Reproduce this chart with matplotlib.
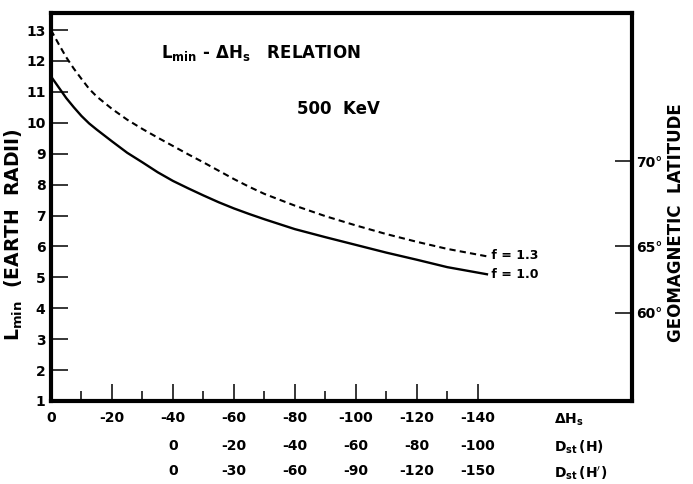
import numpy as np
import matplotlib
matplotlib.use('Agg')
import matplotlib.pyplot as plt
from matplotlib.transforms import blended_transform_factory

# values
dH = [0, -2.5, -5, -7.5, -10, -12.5, -15, -20, -25, -30, -35, -40, -45, -50, -55,
      -60, -65, -70, -80, -90, -100, -110, -120, -130, -143]
L_f10 = [11.5, 11.15, 10.8, 10.5, 10.22, 9.98, 9.78, 9.4, 9.03, 8.72, 8.4, 8.12, 7.88, 7.65, 7.43,
         7.23, 7.05, 6.88, 6.56, 6.3, 6.05, 5.8, 5.57, 5.33, 5.1]
L_f13 = [13.0, 12.55, 12.12, 11.75, 11.42, 11.1, 10.85, 10.45, 10.1, 9.8, 9.52, 9.25, 8.98, 8.72, 8.45,
         8.18, 7.93, 7.7, 7.32, 6.98, 6.68, 6.4, 6.15, 5.92, 5.68]

dh_ticks = [0, -20, -40, -60, -80, -100, -120, -140]
dst_h = [0, -20, -40, -60, -80, -100]
dst_h2 = [0, -30, -60, -90, -120, -150]
L_ticks = list(range(1, 14))
lat_labels = ['70°', '65°', '60°']
lat_L = [8.75, 6.0, 3.85]

plt.rcParams['font.family'] = ['DejaVu Sans']
plt.rcParams['font.weight'] = 'bold'

fig = plt.figure(figsize=(6.93, 4.84), dpi=100)
ax = fig.add_axes([0.0736, 0.1715, 0.838, 0.8015])

ax.plot(dH, L_f10, color='black', lw=1.7)
ax.plot(dH, L_f13, color='black', lw=1.5, dashes=(3, 2))

ax.set_xlim(0, -190.5)
ax.set_ylim(1, 13.55)

for s in ax.spines.values():
    s.set_linewidth(3)

ax.set_xticks(dh_ticks)
ax.set_xticks(np.arange(-10, -140, -20), minor=True)
ax.set_xticklabels([str(v) for v in dh_ticks], fontsize=10, fontweight='bold')
ax.tick_params(axis='x', which='major', direction='in', length=12, width=1.1, pad=7)
ax.tick_params(axis='x', which='minor', direction='in', length=7, width=1.1)
ax.set_yticks(L_ticks)
ax.set_yticklabels([str(v) for v in L_ticks], fontsize=10, fontweight='bold')
ax.tick_params(axis='y', direction='in', length=12, width=1.1, pad=4)

ax2 = ax.twinx()
ax2.set_ylim(ax.get_ylim())
ax2.set_yticks(lat_L)
ax2.set_yticklabels(lat_labels, fontsize=10, fontweight='bold')
ax2.tick_params(axis='y', direction='in', length=12, width=1.1, pad=3)
for s in ax2.spines.values():
    s.set_visible(False)

# extra scales under the axis
tr = blended_transform_factory(ax.transData, ax.transAxes)
for v, lab in zip(dh_ticks[2:], dst_h):
    ax.text(v, -0.115, str(lab), transform=tr, ha='center', va='center', fontsize=10, fontweight='bold')
for v, lab in zip(dh_ticks[2:], dst_h2):
    ax.text(v, -0.18, str(lab), transform=tr, ha='center', va='center', fontsize=10, fontweight='bold')

fig.text(0.80, 0.133, r'$\mathbf{\Delta H_s}$', fontsize=10, va='center')
fig.text(0.80, 0.075, r'$\mathbf{D_{st}\,(H)}$', fontsize=10, va='center')
fig.text(0.80, 0.023, r"$\mathbf{D_{st}\,(H')}$", fontsize=10, va='center')

ax.text(-143, 5.72, ' f = 1.3', fontsize=9, fontweight='bold', va='center', ha='left')
ax.text(-143, 5.08, ' f = 1.0', fontsize=9, fontweight='bold', va='center', ha='left')

fig.text(0.233, 0.89, r'$\mathbf{L_{min}}$ - $\mathbf{\Delta H_s}$   RELATION', fontsize=12, fontweight='bold', va='center')
fig.text(0.428, 0.775, '500  KeV', fontsize=12, fontweight='bold', va='center')

fig.text(0.02, 0.515, r'$\mathbf{L_{min}}$  (EARTH  RADII)', rotation=90, fontsize=13.5, fontweight='bold', ha='center', va='center')
fig.text(0.975, 0.54, 'GEOMAGNETIC  LATITUDE', rotation=90, fontsize=12, fontweight='bold', ha='center', va='center')

fig.savefig('out.png', dpi=100)
